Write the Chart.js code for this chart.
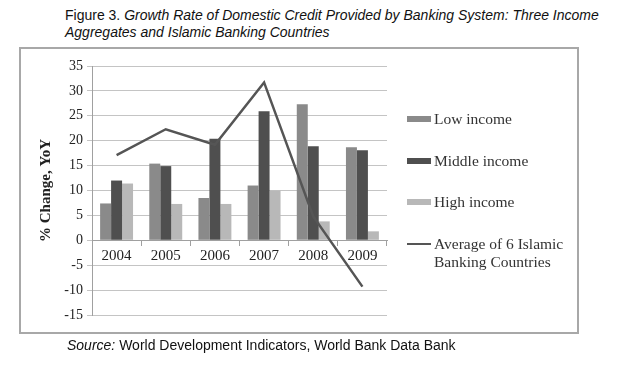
<!DOCTYPE html>
<html>
<head>
<meta charset="utf-8">
<script src="https://cdn.jsdelivr.net/npm/chart.js@4.4.0/dist/chart.umd.min.js"></script>
<style>
  html, body { margin: 0; padding: 0; background: #fff; }
  #wrap { position: relative; width: 640px; height: 365px; overflow: hidden; }
  #title { position: absolute; left: 65px; top: 7px; font-family: "Liberation Sans", Arial, sans-serif; font-size: 14px; line-height: 17px; color: #111; white-space: nowrap; }
  #frame { position: absolute; left: 19px; top: 47px; width: 556px; height: 283px; border: 2px solid #a8a8a8; }
  #source { position: absolute; left: 67px; top: 337px; font-family: "Liberation Sans", Arial, sans-serif; font-size: 14px; color: #111; white-space: nowrap; }
  canvas { position: absolute; left: 0; top: 0; }
  .lg { position: absolute; font-family: "Liberation Serif", "Times New Roman", serif; font-size: 15.5px; color: #333; line-height: 18px; }
  .mk { position: absolute; width: 24px; }
</style>
</head>
<body>
<div id="wrap">
  <div id="title">Figure 3. <i>Growth Rate of Domestic Credit Provided by Banking System: Three Income<br>Aggregates and Islamic Banking Countries</i></div>
  <div id="frame"></div>
  <canvas id="c" width="640" height="365"></canvas>
  <div id="legend"></div>
  <div id="source"><i>Source:</i> World Development Indicators, World Bank Data Bank</div>
</div>
<script>
const years = ["2004", "2005", "2006", "2007", "2008", "2009"];
const lowIncome = [7.4, 15.4, 8.5, 11.0, 27.3, 18.7];
const middleIncome = [12.0, 14.9, 20.4, 25.9, 18.9, 18.1];
const highIncome = [11.4, 7.3, 7.3, 10.0, 3.8, 1.8];
const islamicAvg = [17.1, 22.3, 19.2, 31.7, 4.8, -9.3];
const seriesNames = ["Low income", "Middle income", "High income", "Average of 6 Islamic Banking Countries"];
const colors = ["#8a8a8a", "#4f4f4f", "#b8b8b8", "#555555"];

const serif = "'Liberation Serif', 'Times New Roman', serif";

new Chart(document.getElementById('c'), {
  type: 'bar',
  data: {
    labels: years,
    datasets: [
      { type: 'bar', label: seriesNames[0], data: lowIncome, backgroundColor: colors[0], order: 1, categoryPercentage: 0.67, barPercentage: 1.0 },
      { type: 'bar', label: seriesNames[1], data: middleIncome, backgroundColor: colors[1], order: 1, categoryPercentage: 0.67, barPercentage: 1.0 },
      { type: 'bar', label: seriesNames[2], data: highIncome, backgroundColor: colors[2], order: 1, categoryPercentage: 0.67, barPercentage: 1.0 },
      { type: 'line', label: seriesNames[3], data: islamicAvg, borderColor: colors[3], borderWidth: 2.5, pointRadius: 0, tension: 0, fill: false, order: 0 }
    ]
  },
  options: {
    responsive: false,
    animation: false,
    events: [],
    layout: { padding: { left: 32, top: 66, right: 253, bottom: 50 } },
    plugins: { legend: { display: false }, tooltip: { enabled: false } },
    scales: {
      x: {
        position: { y: 0 },
        offset: true,
        grid: { display: true, drawOnChartArea: false, offset: true, tickLength: 5, color: '#a0a0a0', lineWidth: 1 },
        border: { display: true, color: '#a0a0a0', width: 1 },
        ticks: { font: { family: serif, size: 15 }, color: '#222', padding: 2 }
      },
      y: {
        min: -15, max: 35,
        ticks: { stepSize: 5, font: { family: serif, size: 14 }, color: '#222', padding: 4 },
        grid: { color: '#c4c4c4', lineWidth: 1, tickLength: 5 },
        border: { display: true, color: '#a0a0a0', width: 1 },
        title: { display: true, text: '% Change, YoY', font: { family: serif, size: 15, weight: 'bold' }, color: '#222', padding: { top: 5, bottom: 0 } },
        afterFit: function(s) { s.width = 60; }
      }
    }
  }
});

// HTML legend
const lg = document.getElementById('legend');
const rows = [119, 161, 202, 244];
seriesNames.forEach((name, i) => {
  const mk = document.createElement('div');
  mk.className = 'mk';
  mk.style.left = '407px';
  mk.style.background = colors[i];
  if (i < 3) { mk.style.top = (rows[i] - 3) + 'px'; mk.style.height = '6px'; }
  else { mk.style.top = (rows[i] - 1) + 'px'; mk.style.height = '2px'; }
  lg.appendChild(mk);
  const t = document.createElement('div');
  t.className = 'lg';
  t.style.left = '434px';
  t.style.top = (rows[i] - 9) + 'px';
  if (i === 3) { t.innerHTML = 'Average of 6 Islamic<br>Banking Countries'; }
  else { t.textContent = name; }
  lg.appendChild(t);
});
</script>
</body>
</html>
